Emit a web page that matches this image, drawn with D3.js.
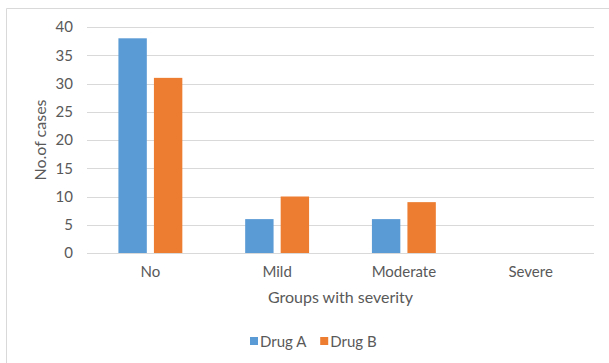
<!DOCTYPE html>
<html>
<head>
<meta charset="utf-8">
<script src="https://cdn.jsdelivr.net/npm/d3@7"></script>
<style>
  html, body { margin: 0; padding: 0; background: #fff; }
  svg { display: block; }
  text { font-family: Lato, "Open Sans", sans-serif; fill: #595959; }
</style>
</head>
<body>
<svg id="chart" width="609" height="363"></svg>
<script>
// Severity groups and case counts per drug
const categories = ["No", "Mild", "Moderate", "Severe"];
const seriesNames = ["Drug A", "Drug B"];
const drugA = [38, 6, 6, 0];
const drugB = [31, 10, 9, 0];
const yTicks = [0, 5, 10, 15, 20, 25, 30, 35, 40];
const colors = ["#5b9bd5", "#ed7d31"];

const svg = d3.select("#chart");
const margin = { left: 87, right: 15, top: 27, bottom: 110 };
const W = 609, H = 363;
const x0 = margin.left, x1 = W - margin.right;
const yTop = margin.top, yBot = H - margin.bottom;

// chart frame (top and left edges)
svg.append("path")
  .attr("d", `M6.5,${H} V8.5 H${W}`)
  .attr("fill", "none")
  .attr("stroke", "#d9d9d9")
  .attr("stroke-width", 1);

const x = d3.scaleBand().domain(categories).range([x0, x1]).paddingInner(0).paddingOuter(0);
const inner = d3.scaleBand().domain(seriesNames).range([0, x.bandwidth()]).paddingInner(0.2).paddingOuter(0.885);
const y = d3.scaleLinear().domain([0, 40]).range([yBot, yTop]);

// gridlines
svg.append("g").selectAll("line").data(yTicks.filter(d => d > 0)).join("line")
  .attr("x1", x0).attr("x2", x1)
  .attr("y1", d => Math.round(y(d)) + 0.5).attr("y2", d => Math.round(y(d)) + 0.5)
  .attr("stroke", "#d9d9d9").attr("stroke-width", 1);

// y tick labels
const yAxis = d3.axisLeft(y).tickValues(yTicks).tickSize(0).tickPadding(14);
const gy = svg.append("g").attr("transform", `translate(${x0},0)`).call(yAxis);
gy.select(".domain").remove();
gy.selectAll("text").attr("font-size", 15).attr("fill", "#595959").style("font-family", "Lato, sans-serif");

// bars
const rows = categories.map((c, i) => ({ cat: c, vals: [drugA[i], drugB[i]] }));
const groups = svg.append("g").selectAll("g").data(rows).join("g")
  .attr("transform", d => `translate(${x(d.cat)},0)`);
groups.selectAll("rect").data(d => d.vals.map((v, j) => ({ name: seriesNames[j], v, j })))
  .join("rect")
  .attr("x", d => inner(d.name))
  .attr("width", inner.bandwidth())
  .attr("y", d => y(d.v))
  .attr("height", d => y(0) - y(d.v))
  .attr("fill", d => colors[d.j]);

// baseline
svg.append("line")
  .attr("x1", x0).attr("x2", x1)
  .attr("y1", Math.round(y(0)) + 0.5).attr("y2", Math.round(y(0)) + 0.5)
  .attr("stroke", "#d9d9d9").attr("stroke-width", 1);

// x category labels
const xAxis = d3.axisBottom(x).tickSize(0).tickPadding(13);
const gx = svg.append("g").attr("transform", `translate(0,${yBot})`).call(xAxis);
gx.select(".domain").remove();
gx.selectAll("text").attr("font-size", 15).attr("fill", "#595959").style("font-family", "Lato, sans-serif");

// axis titles
svg.append("text")
  .attr("x", (x0 + x1) / 2).attr("y", 303)
  .attr("text-anchor", "middle").attr("font-size", 16)
  .text("Groups with severity");
svg.append("text")
  .attr("transform", `translate(46,${(yTop + yBot) / 2}) rotate(-90)`)
  .attr("text-anchor", "middle").attr("font-size", 16)
  .text("No.of cases");

// legend, laid out from the measured label widths and centred under the plot
const legend = svg.append("g");
const items = legend.selectAll("g").data(seriesNames).join("g");
items.append("rect").attr("x", 0).attr("y", -4).attr("width", 8).attr("height", 8)
  .attr("fill", (d, i) => colors[i]);
items.append("text").attr("x", 10).attr("y", 6).attr("font-size", 15).text(d => d);
let cursor = 0;
items.each(function () {
  d3.select(this).attr("transform", `translate(${cursor},0)`);
  cursor += this.getBBox().width + 13;
});
const legendWidth = cursor - 13;
legend.attr("transform", `translate(${Math.round(313 - legendWidth / 2)},341)`);
</script>
</body>
</html>
